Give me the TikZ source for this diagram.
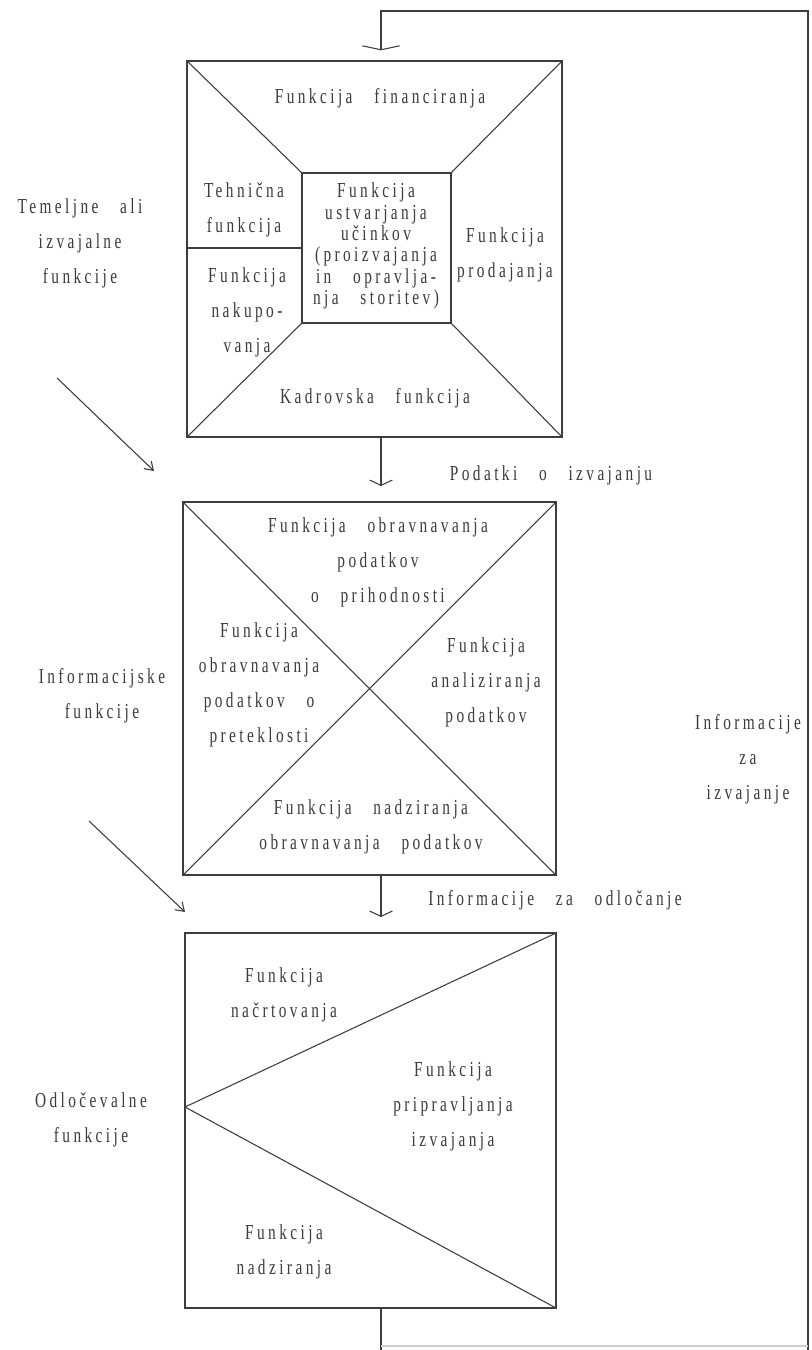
\documentclass[tikz,border=0pt]{standalone}
\usepackage{fontspec}
\setmainfont{Liberation Serif}[FakeStretch=0.72, LetterSpace=16, WordSpace=3]
\usetikzlibrary{arrows.meta}
\definecolor{ink}{HTML}{3C3C44}
\definecolor{txtc}{HTML}{3A3A42}
\begin{document}
\begin{tikzpicture}[x=0.75pt,y=-0.75pt,
  ln/.style={draw=ink, line width=0.8pt},
  box/.style={ln, rectangle, inner sep=0pt, outer sep=0pt},
  txt/.style={align=center, inner sep=0pt, text=txtc, font=\fontsize{16}{26.25}\selectfont},
  tight/.style={txt, font=\fontsize{16}{16}\selectfont},
  flow/.style={ln, -{Straight Barb[length=4pt,width=17pt]}, shorten >=12pt},
  topflow/.style={ln, -{Straight Barb[length=3pt,width=28pt]}, shorten >=8pt},
  diagarr/.style={ln, -{Straight Barb[length=6pt,width=8pt]}}]
\useasboundingbox (0,0) rectangle (811,1350);
\fill[white] (0,0) rectangle (811,1350);

% boxes
\node[box, minimum width=281.25pt, minimum height=282pt] (b1) at (374.5,249) {};
\node[box, minimum width=111.75pt, minimum height=112.5pt] (in) at (376.5,248) {};
\node[box, minimum width=279.75pt, minimum height=279.75pt] (b2) at (369.5,688.5) {};
\node[box, minimum width=278.25pt, minimum height=281.25pt] (b3) at (370.5,1120.5) {};

% box 1 inner lines
\draw[ln] (b1.north west) -- (in.north west);
\draw[ln] (b1.north east) -- (in.north east);
\draw[ln] (b1.south west) -- (in.south west);
\draw[ln] (b1.south east) -- (in.south east);
\coordinate (dv) at (187,248);
\draw[ln] (dv) -- (dv -| in.west);

% box 2 diagonals
\draw[ln] (b2.north west) -- (b2.south east);
\draw[ln] (b2.north east) -- (b2.south west);

% box 3 wedge
\coordinate (apex) at (185,1107);
\draw[ln] (b3.north east) -- (apex) -- (b3.south east);

% flow connectors
\coordinate (ax) at (381,0);
\coordinate (ctr) at (808,11);
\coordinate (ctl) at (381,11);
\coordinate (cbr) at (808,1350);
\coordinate (cbl) at (381,1350);
\draw[topflow] (cbr) -- (ctr) -- (ctl) -- (b1.north -| ax);
\draw[flow] (b1.south -| ax) -- (b2.north -| ax);
\draw[flow] (b2.south -| ax) -- (b3.north -| ax);
\draw[ln] (b3.south -| ax) -- (cbl);
\coordinate (fbl) at (381,1346);
\coordinate (fbr) at (808,1346);
\draw[draw=ink!25, line width=0.8pt] (fbl) -- (fbr);

% diagonal arrows
\coordinate (d1s) at (57,378);
\coordinate (d1e) at (154,471);
\coordinate (d2s) at (89,821);
\coordinate (d2e) at (185,912);
\draw[diagarr] (d1s) -- (d1e);
\draw[diagarr] (d2s) -- (d2e);

% texts box 1
\node[txt] (tfin) at (380,98) {Funkcija financiranja};
\node[txt] (tteh) at (244,210) {Tehnična\\funkcija};
\node[txt] (tnak) at (247,312) {Funkcija\\nakupo-\\vanja};
\node[tight] (tuc) at (376,246) {Funkcija\\ustvarjanja\\učinkov\\(proizvajanja\\in opravlja-\\nja storitev)};
\node[txt] (tprod) at (505,255) {Funkcija\\prodajanja};
\node[txt] (tkad) at (375,398) {Kadrovska funkcija};
\node[txt] (ttem) at (80,243) {Temeljne ali\\izvajalne\\funkcije};

% texts box 2
\node[txt] (tpod) at (551,475) {Podatki o izvajanju};
\node[txt] (tpri) at (378,562) {Funkcija obravnavanja\\podatkov\\o prihodnosti};
\node[txt] (tpre) at (259,685) {Funkcija\\obravnavanja\\podatkov o\\preteklosti};
\node[txt] (tana) at (486,682) {Funkcija\\analiziranja\\podatkov};
\node[txt] (tnad) at (371,827) {Funkcija nadziranja\\obravnavanja podatkov};
\node[txt] (tinf) at (102,696) {Informacijske\\funkcije};
\node[txt] (tiza) at (748,759) {Informacije\\za\\izvajanje};

% texts box 3
\node[txt] (todl) at (555,900) {Informacije za odločanje};
\node[txt] (tnac) at (284,995) {Funkcija\\načrtovanja};
\node[txt] (tprip) at (453,1106) {Funkcija\\pripravljanja\\izvajanja};
\node[txt] (tnadz) at (284,1252) {Funkcija\\nadziranja};
\node[txt] (todv) at (91,1120) {Odločevalne\\funkcije};
\end{tikzpicture}
\end{document}
